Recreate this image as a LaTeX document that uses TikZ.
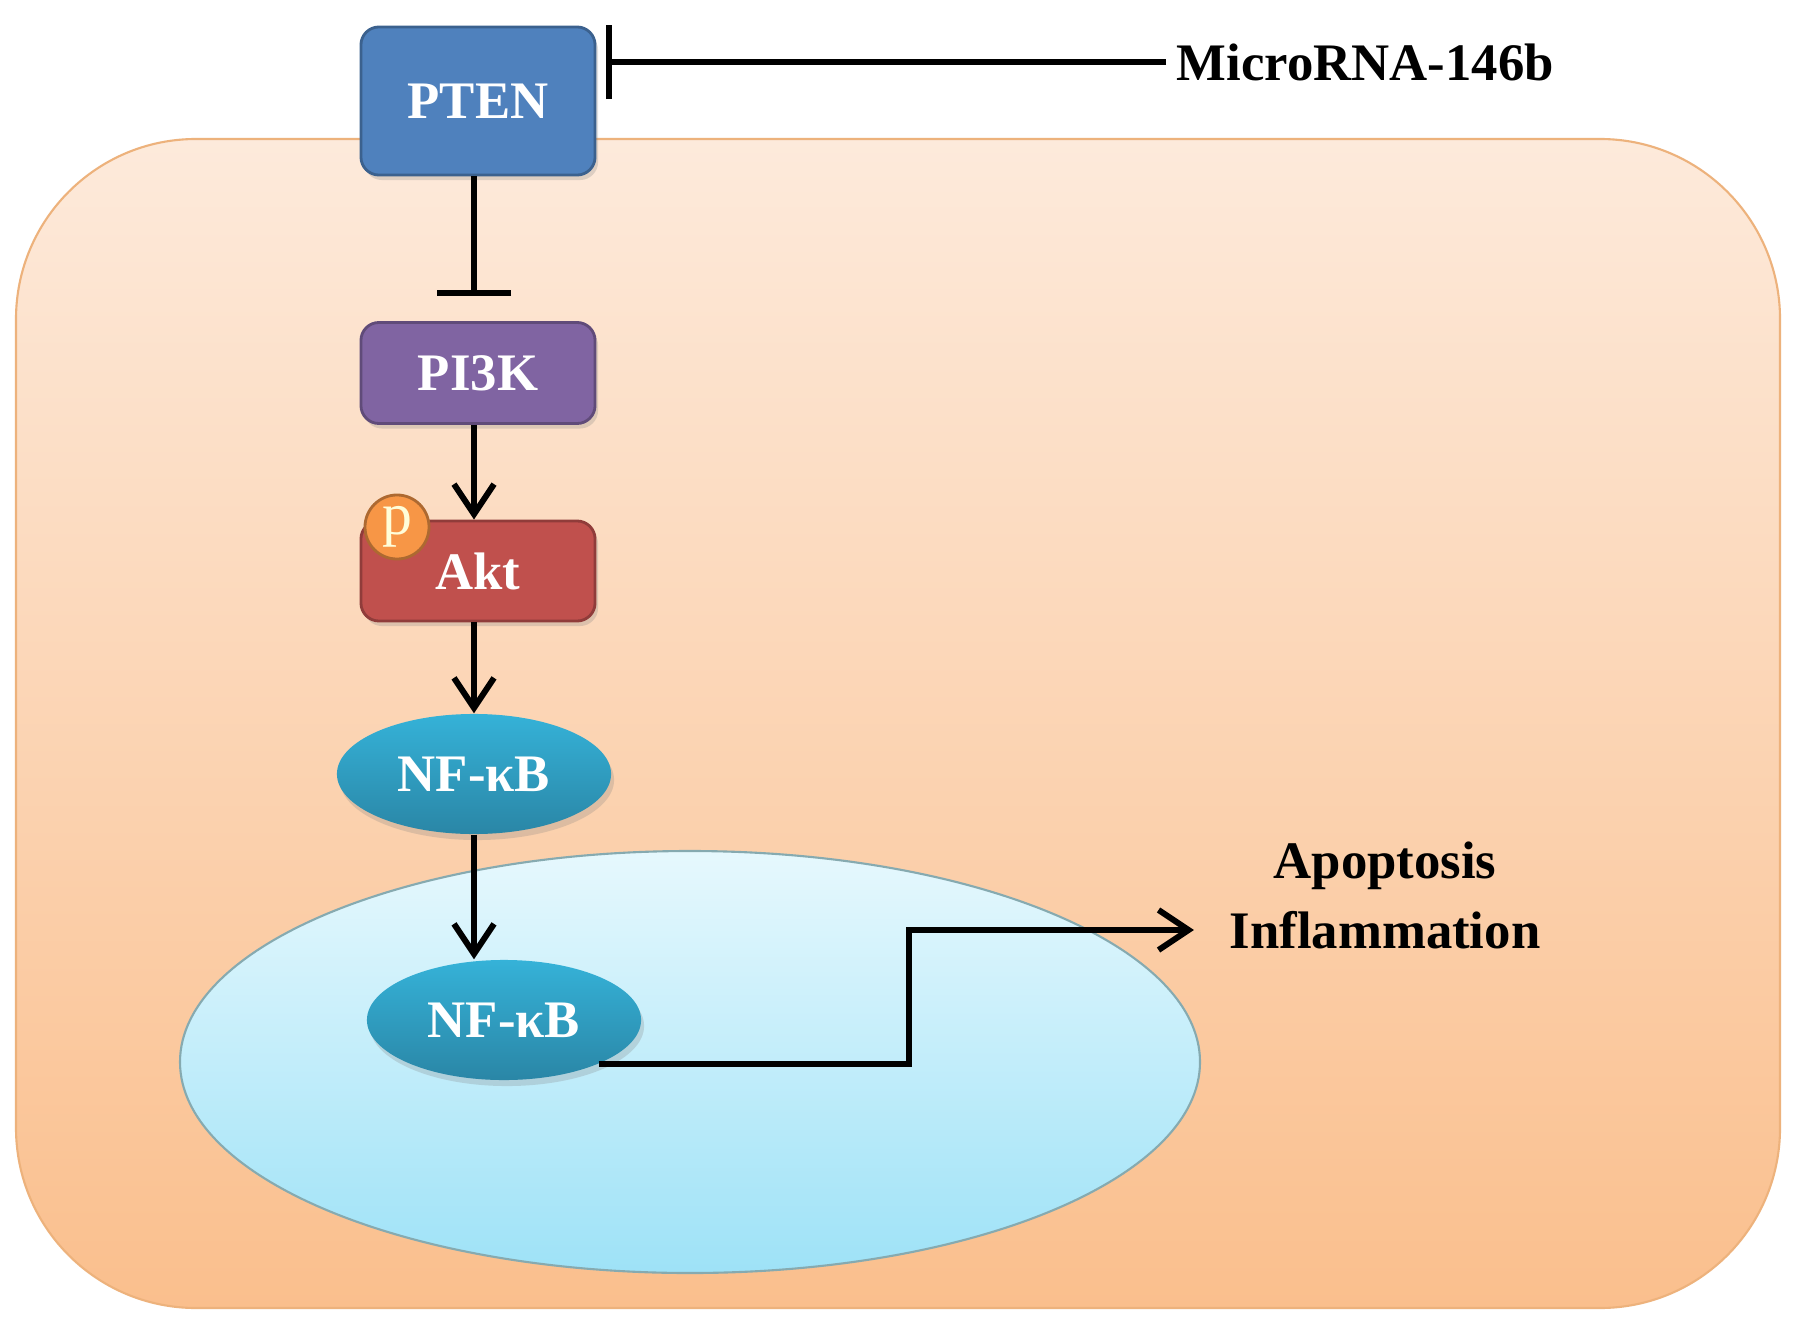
\documentclass[tikz,border=0pt]{standalone}
\usepackage{fontspec}
\setmainfont{Liberation Serif}
\usetikzlibrary{arrows.meta,shapes.geometric,positioning,shadows}
\definecolor{celltop}{HTML}{FDEADB}
\definecolor{cellbot}{HTML}{FABF8D}
\definecolor{cellline}{HTML}{EDB27C}
\definecolor{nuctop}{HTML}{E6F8FD}
\definecolor{nucbot}{HTML}{9EE2F7}
\definecolor{nucline}{HTML}{86AAB0}
\definecolor{ptenblue}{HTML}{4F81BD}
\definecolor{pikpurple}{HTML}{8064A2}
\definecolor{aktred}{HTML}{C0504D}
\definecolor{porange}{HTML}{F79646}
\definecolor{nftop}{HTML}{35B2D8}
\definecolor{nfbot}{HTML}{2A86A6}
\begin{document}
\begin{tikzpicture}[x=0.01cm,y=-0.01cm,
    protein/.style={rectangle, rounded corners=0.18cm, draw=#1!75!black, fill=#1, line width=0.8pt,
      minimum width=2.34cm, text=white, font=\fontsize{15}{17}\selectfont\bfseries,
      drop shadow={opacity=0.25, shadow xshift=0.03cm, shadow yshift=-0.05cm}},
    factor/.style={ellipse, top color=nftop, bottom color=nfbot, minimum width=2.74cm, minimum height=1.2cm,
      text=white, font=\fontsize{15}{17}\selectfont\bfseries,
      drop shadow={opacity=0.25, shadow xshift=0.03cm, shadow yshift=-0.06cm}},
    outtext/.style={inner sep=0.1cm, font=\fontsize{15}{17}\selectfont\bfseries},
    act/.style={-{Straight Barb[length=0.3cm, width=0.4cm]}, line width=1.7pt},
    inhib/.style={-{Bar[width=0.74cm]}, line width=1.7pt}]
    \useasboundingbox (0,0) rectangle (1795,1328);
    \fill[white] (0,0) rectangle (1795,1328);
    % cell and nucleus
    \draw[cellline, line width=0.6pt, top color=celltop, bottom color=cellbot, rounded corners=1.8cm] (16,139) rectangle (1780,1308);
    \draw[nucline, line width=0.6pt, top color=nuctop, bottom color=nucbot] (690,1062) ellipse [x radius=510, y radius=211];
    % pathway
    \node[protein=ptenblue, minimum height=1.48cm] (pten) at (478,101) {PTEN};
    \node[protein=pikpurple, minimum height=1.01cm] (pik) at (478,373) {PI3K};
    \node[protein=aktred, minimum height=1.0cm] (akt) at (478,571) {Akt};
    \node[circle, fill=porange, draw=porange!70!black, line width=0.8pt, minimum size=0.64cm, inner sep=0pt,
      text=yellow!15!white, font=\fontsize{17}{17}\selectfont] (phos) at (397,527) {p};
    \node[factor] (nfa) at (474,774) {NF-κB};
    \node[factor] (nfb) at (504,1020) {NF-κB};
    % labels outside
    \node[outtext, anchor=west] (mirna) at (1166,62) {MicroRNA-146b};
    \node[outtext] (inflam) at (1385,930) {Inflammation};
    \node[outtext, above=0pt of inflam] (apop) {Apoptosis};
    \coordinate (turn) at (909,930);
    % connectors
    \draw[inhib, shorten >=0.1cm] (mirna.west) -- (pten.east |- mirna.west);
    \draw[inhib, shorten >=0.25cm] (pten.south -| nfa) -- (pik.north -| nfa);
    \draw[act] (pik.south -| nfa) -- (akt.north -| nfa);
    \draw[act] (akt.south -| nfa) -- (nfa.north);
    \draw[act] (nfa.south) -- (nfa.south |- nfb.north);
    \draw[act] (nfb.-25) -| (turn) -- ([xshift=-0.25cm]inflam.west);
\end{tikzpicture}
\end{document}
